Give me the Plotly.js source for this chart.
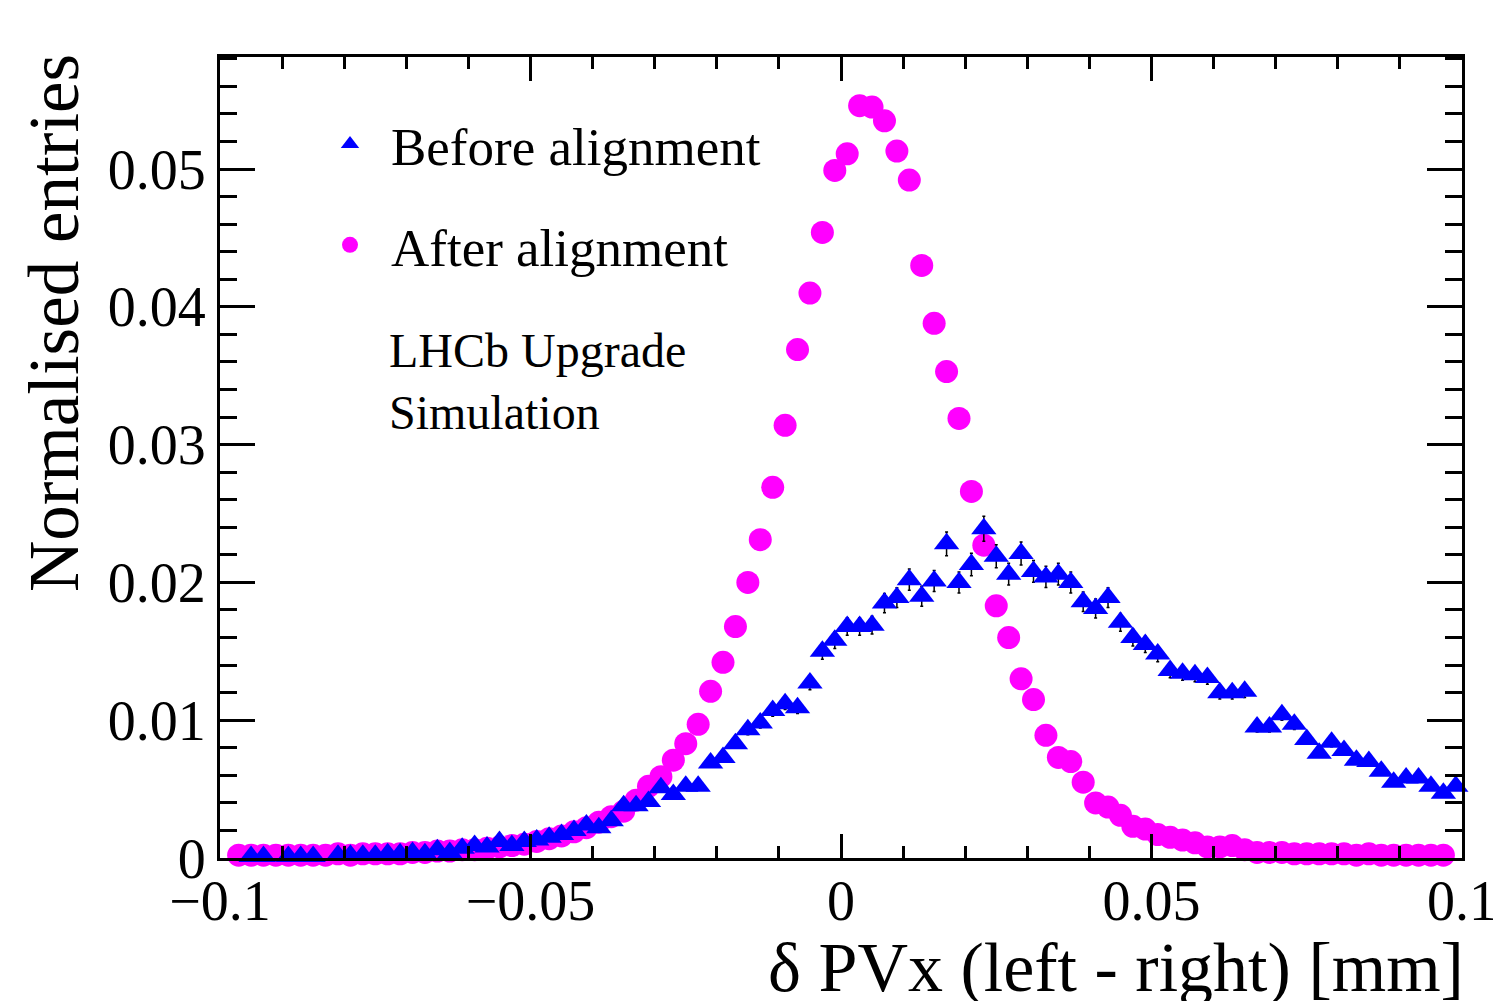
<!DOCTYPE html>
<html>
<head>
<meta charset="utf-8">
<script src="https://cdn.plot.ly/plotly-3.0.1.min.js"></script>
<style>html,body{margin:0;padding:0;background:#fff;}#chart{width:1493px;height:1001px;}</style>
</head>
<body>
<div id="chart"></div>
<script>
// Bin centres of δPVx (left - right) [mm]
const binCentres = [
 -0.099,-0.097,-0.095,-0.093,-0.091,-0.089,-0.087,-0.085,-0.083,-0.081,
 -0.079,-0.077,-0.075,-0.073,-0.071,-0.069,-0.067,-0.065,-0.063,-0.061,
 -0.059,-0.057,-0.055,-0.053,-0.051,-0.049,-0.047,-0.045,-0.043,-0.041,
 -0.039,-0.037,-0.035,-0.033,-0.031,-0.029,-0.027,-0.025,-0.023,-0.021,
 -0.019,-0.017,-0.015,-0.013,-0.011,-0.009,-0.007,-0.005,-0.003,-0.001,
  0.001, 0.003, 0.005, 0.007, 0.009, 0.011, 0.013, 0.015, 0.017, 0.019,
  0.021, 0.023, 0.025, 0.027, 0.029, 0.031, 0.033, 0.035, 0.037, 0.039,
  0.041, 0.043, 0.045, 0.047, 0.049, 0.051, 0.053, 0.055, 0.057, 0.059,
  0.061, 0.063, 0.065, 0.067, 0.069, 0.071, 0.073, 0.075, 0.077, 0.079,
  0.081, 0.083, 0.085, 0.087, 0.089, 0.091, 0.093, 0.095, 0.097, 0.099
];

// Normalised entries, before alignment (null = empty bin, not drawn)
const beforeAlignment = [
 null,null,0.0001,0.0001,null,0.0001,0.0001,0.0001,null,0.0002,
 0.0002,0.0002,0.0002,0.0003,0.0003,0.0004,0.0003,0.0006,0.0004,0.0007,
 0.0009,0.0008,0.0012,0.0009,0.0012,0.0013,0.0015,0.0017,0.0020,0.0024,
 0.0022,0.0027,0.0038,0.0038,0.0041,0.0051,0.0046,0.0052,0.0052,0.0069,
 0.0073,0.0083,0.0093,0.0098,0.0107,0.0112,0.0109,0.0127,0.0150,0.0158,
 0.0168,0.0168,0.0169,0.0185,0.0189,0.0202,0.0190,0.0201,0.0228,0.0200,
 0.0213,0.0239,0.0219,0.0206,0.0221,0.0208,0.0204,0.0206,0.0200,0.0186,
 0.0181,0.0189,0.0171,0.0160,0.0155,0.0148,0.0136,0.0134,0.0133,0.0131,
 0.0120,0.0120,0.0121,0.0095,0.0095,0.0104,0.0097,0.0086,0.0076,0.0084,
 0.0078,0.0071,0.0070,0.0063,0.0055,0.0058,0.0058,0.0052,0.0047,0.0052
];

// Normalised entries, after alignment (null = empty bin, not drawn)
const afterAlignment = [
 null,0.0002,0.0002,0.0002,0.0002,0.0002,0.0002,0.0002,0.0002,0.0003,
 0.0002,0.0003,0.0003,0.0003,0.0003,0.0004,0.0004,0.0005,0.0005,0.0006,
 0.0006,0.0007,0.0008,0.0009,0.0010,0.0012,0.0014,0.0016,0.0019,0.0022,
 0.0026,0.0030,0.0034,0.0042,0.0052,0.0059,0.0071,0.0083,0.0097,0.0121,
 0.0142,0.0168,0.0200,0.0231,0.0269,0.0314,0.0369,0.0410,0.0454,0.0499,
 0.0511,0.0546,0.0545,0.0535,0.0513,0.0492,0.0430,0.0388,0.0353,0.0319,
 0.0266,0.0227,0.0183,0.0160,0.0130,0.0115,0.0089,0.0073,0.0070,0.0055,
 0.0040,0.0037,0.0031,0.0023,0.0021,0.0017,0.0015,0.0013,0.0011,0.0008,
 0.0008,0.0009,0.0006,0.0004,0.0004,0.0004,0.0003,0.0003,0.0003,0.0003,
 0.0003,0.0002,0.0003,0.0002,0.0002,0.0002,0.0002,0.0002,0.0002,null
];

const seriesNames = ['Before alignment', 'After alignment'];
const xTickVals = [-0.1, -0.05, 0, 0.05, 0.1];
const xTickText = ['\u22120.1', '\u22120.05', '0', '0.05', '0.1'];
const yTickVals = [0, 0.01, 0.02, 0.03, 0.04, 0.05];
const yTickText = ['0', '0.01', '0.02', '0.03', '0.04', '0.05'];
const xTitle = 'δ PVx (left - right) [mm]';
const yTitle = 'Normalised entries';
const labelText = 'LHCb Upgrade<br>Simulation';

const FONT = 'Liberation Serif, Times New Roman, serif';
const W = 1493, H = 1001;
const L = 220, R = 31, T = 57, B = 143;
const PW = W - L - R, PH = H - T - B;
const px = x => (x - L) / PW;
const py = y => (H - B - y) / PH;

const traces = [
  {
    type: 'scatter', mode: 'markers',
    x: binCentres, y: afterAlignment,
    name: seriesNames[1], legendgroup: 'after', legendrank: 2,
    marker: {symbol: 'circle', size: 23, color: '#ff00ff', line: {width: 0}},
    cliponaxis: false, hoverinfo: 'x+y'
  },
  {
    type: 'scatter', mode: 'markers',
    x: binCentres, y: beforeAlignment,
    name: seriesNames[0], legendgroup: 'before', legendrank: 1,
    marker: {symbol: 'triangle-up', size: 22, color: '#0000ff', line: {width: 0}},
    error_y: {type: 'percent', value: 3.8, color: '#000000', thickness: 1.5, width: 1.5},
    cliponaxis: false, hoverinfo: 'x+y'
  }
];

const axisCommon = {
  showline: true, linecolor: '#000', linewidth: 3, mirror: 'ticks',
  ticks: 'inside', tickcolor: '#000', tickwidth: 3,
  showgrid: false, zeroline: false, automargin: false,
  ticklabeloverflow: 'allow',
  tickfont: {family: FONT, size: 56, color: '#000'}
};

const layout = {
  width: W, height: H,
  margin: {l: L, r: R, t: T, b: B, pad: 0},
  paper_bgcolor: '#fff', plot_bgcolor: '#fff',
  font: {family: FONT, color: '#000'},
  xaxis: Object.assign({}, axisCommon, {
    range: [-0.1, 0.1], tickmode: 'array', tickvals: xTickVals, ticktext: xTickText,
    ticklen: 24, ticklabelstandoff: -8,
    minor: {dtick: 0.01, tick0: 0, ticklen: 12, tickwidth: 3, tickcolor: '#000', ticks: 'inside'},
    title: {text: ''}
  }),
  yaxis: Object.assign({}, axisCommon, {
    range: [0, 0.05813], tickmode: 'array', tickvals: yTickVals, ticktext: yTickText,
    ticklen: 35,
    minor: {dtick: 0.002, tick0: 0, ticklen: 17, tickwidth: 3, tickcolor: '#000', ticks: 'inside'},
    title: {text: ''}
  }),
  showlegend: true,
  legend: {
    x: px(309), xanchor: 'left', y: py(103), yanchor: 'top',
    bgcolor: 'rgba(0,0,0,0)', borderwidth: 0,
    font: {family: FONT, size: 53, color: '#000'},
    traceorder: 'grouped', tracegroupgap: 29, itemsizing: 'trace', itemwidth: 72
  },
  annotations: [
    {xref: 'paper', yref: 'paper', x: px(1466), xanchor: 'right', y: py(968), yanchor: 'middle',
     text: xTitle, showarrow: false, font: {family: FONT, size: 70, color: '#000'}},
    {xref: 'paper', yref: 'paper', x: px(54), xanchor: 'center', y: py(52), yanchor: 'top',
     text: yTitle, textangle: -90, showarrow: false, font: {family: FONT, size: 71, color: '#000'}},
    {xref: 'paper', yref: 'paper', x: px(387), xanchor: 'left', y: py(381), yanchor: 'middle',
     text: labelText, align: 'left', showarrow: false, font: {family: FONT, size: 48, color: '#000'}}
  ]
};

Plotly.newPlot('chart', traces, layout, {displayModeBar: false, staticPlot: true});
</script>
</body>
</html>
